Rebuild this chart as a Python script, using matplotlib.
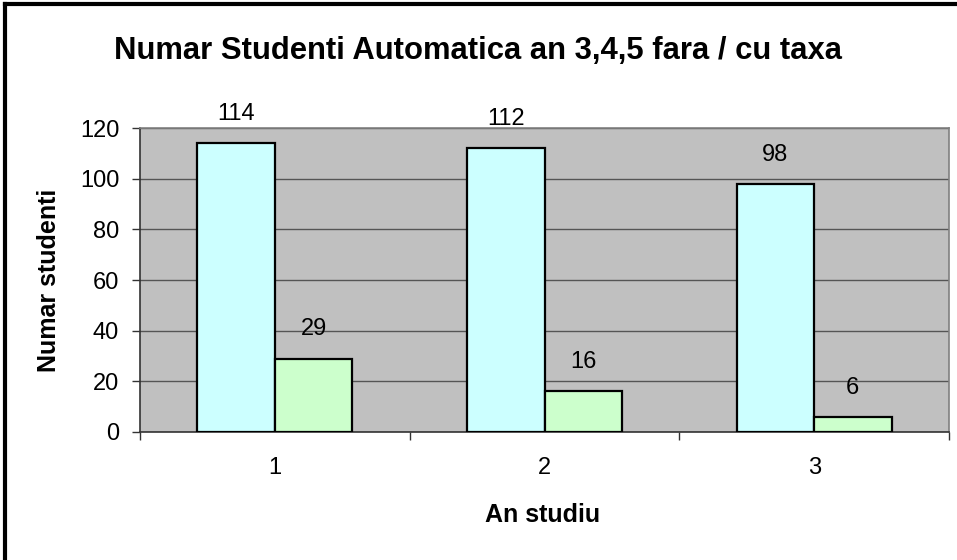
import numpy as np
import matplotlib
matplotlib.use('Agg')
import matplotlib.pyplot as plt
from matplotlib.lines import Line2D

plt.rcParams['font.family'] = ['Liberation Sans', 'DejaVu Sans']

YEARS = ['1', '2', '3']
FARA_TAXA = [114, 112, 98]
CU_TAXA = [29, 16, 6]
Y_TICKS = [0, 20, 40, 60, 80, 100, 120]

TITLE = 'Numar Studenti Automatica an 3,4,5 fara / cu taxa'
XLABEL = 'An studiu'
YLABEL = 'Numar studenti'

CYAN = '#CCFFFF'
GREEN = '#CCFFCC'
PLOT_BG = '#C0C0C0'


def main():
    fig = plt.figure(figsize=(9.57, 5.6), dpi=100)
    ax = fig.add_axes([140 / 957, 1 - 432 / 560, 809 / 957, 304 / 560])
    ax.set_facecolor(PLOT_BG)

    x = np.arange(len(YEARS))
    w = 0.287
    b1 = ax.bar(x - w / 2, FARA_TAXA, width=w, color=CYAN,
                edgecolor='black', linewidth=1.6, zorder=3)
    b2 = ax.bar(x + w / 2, CU_TAXA, width=w, color=GREEN,
                edgecolor='black', linewidth=1.6, zorder=3)

    for bars, vals in ((b1, FARA_TAXA), (b2, CU_TAXA)):
        for rect, v in zip(bars, vals):
            ax.annotate(str(v), (rect.get_x() + rect.get_width() / 2, v),
                        xytext=(0, 21), textcoords='offset points',
                        ha='center', va='center', fontsize=17,
                        annotation_clip=False, zorder=4)

    ax.set_xlim(-0.5, len(YEARS) - 0.5)
    ax.set_ylim(0, 120)
    ax.set_yticks(Y_TICKS)
    ax.yaxis.grid(True, color='#555555', linewidth=1.0, zorder=1)
    ax.set_axisbelow(True)

    ax.set_xticks(x)
    ax.set_xticklabels(YEARS, fontsize=17)
    ax.set_xticks(np.arange(len(YEARS) + 1) - 0.5, minor=True)
    ax.tick_params(axis='x', which='major', length=0, pad=18)
    ax.tick_params(axis='x', which='minor', length=6, width=1, color='#333333')
    ax.tick_params(axis='y', length=6, width=1, color='#333333', pad=9,
                   labelsize=17)

    for side in ('top', 'right'):
        ax.spines[side].set_color('#808080')
        ax.spines[side].set_linewidth(1.2)
    for side in ('left', 'bottom'):
        ax.spines[side].set_color('#333333')
        ax.spines[side].set_linewidth(1.2)

    ax.set_xlabel(XLABEL, fontsize=18, fontweight='bold')
    ax.set_ylabel(YLABEL, fontsize=18, fontweight='bold')
    ax.xaxis.set_label_coords(0.497, -0.273)
    ax.yaxis.set_label_coords(-0.1125, 0.5)
    ax.xaxis.label.set_va('center')
    ax.yaxis.label.set_va('center')

    fig.text(0.5, 1 - 51 / 560, TITLE, ha='center', va='center',
             fontsize=22.3, fontweight='bold')

    # chart frame (only left and top edges are visible in the crop)
    fig.add_artist(Line2D([5 / 957, 5 / 957], [0, 1 - 4 / 560],
                          transform=fig.transFigure, color='black', lw=3))
    fig.add_artist(Line2D([5 / 957, 1], [1 - 4 / 560, 1 - 4 / 560],
                          transform=fig.transFigure, color='black', lw=3))

    fig.savefig('out.png', dpi=100, facecolor='white')


if __name__ == '__main__':
    main()
